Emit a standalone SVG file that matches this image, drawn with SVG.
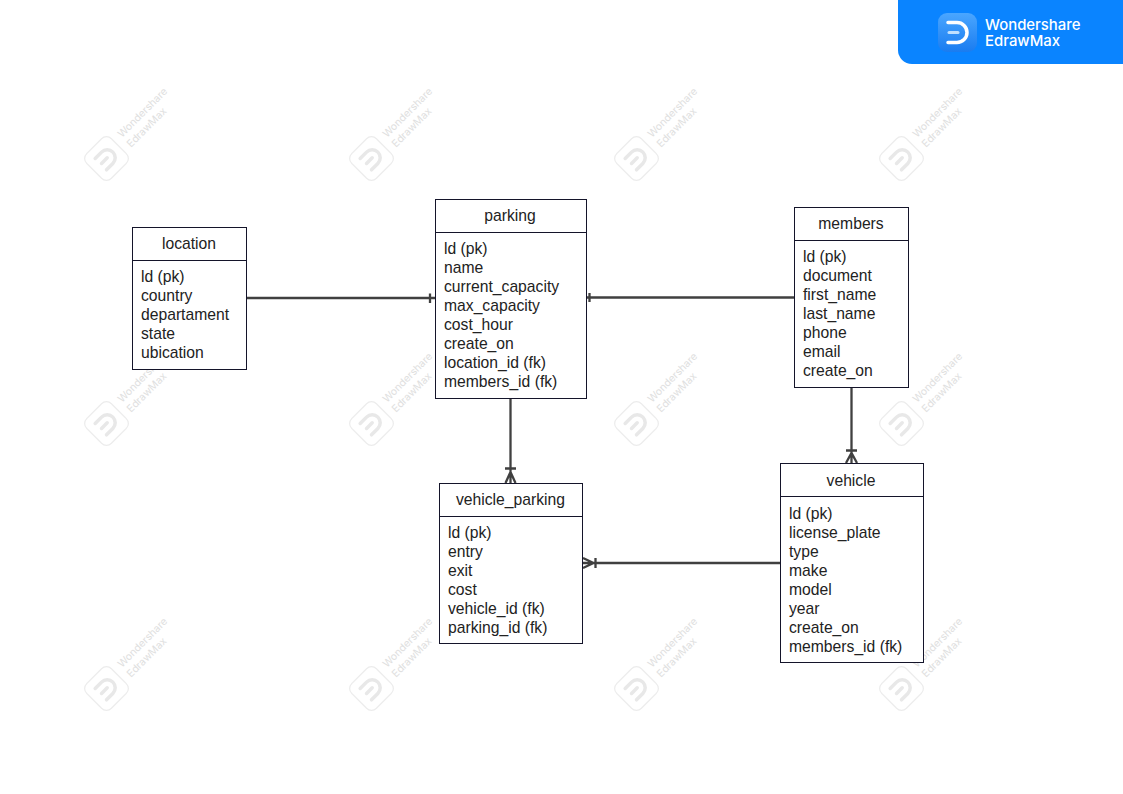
<svg xmlns="http://www.w3.org/2000/svg" width="1123" height="794" viewBox="0 0 1123 794">
<style>
.box{fill:#fff;stroke:#14142a;stroke-width:1}
.t{font-family:"Liberation Sans",Arial,sans-serif;font-size:15.700px;fill:#222}
.h{text-anchor:middle}
.c{fill:none;stroke:#404040;stroke-width:2.300}
.wm{font-family:"Inter","Liberation Sans",sans-serif;font-size:10.300px;fill:#e0e0e0}
.wl{fill:#fff;stroke:#ececec;stroke-width:1.2}
.wi{fill:none;stroke:#e8e8e8;stroke-width:3.500;stroke-linecap:round}
.bt{font-family:"Inter","Liberation Sans",sans-serif;font-size:14.900px;font-weight:500;fill:#fff}
</style>
<defs>
<linearGradient id="lg" x1="0" y1="0" x2="0" y2="1"><stop offset="0" stop-color="#4aa6ff"/><stop offset="1" stop-color="#1a7cf0"/></linearGradient>
<g id="wmark">
<rect x="-17.500" y="-17.500" width="35" height="35" rx="7" class="wl" transform="rotate(45)"/>
<path d="M-8-8H1A8 8 0 0 1 1 8H-8M-7 0H1" class="wi" transform="rotate(-45)"/>
</g>
</defs>
<rect width="1123" height="794" fill="#fff"/>
<g id="watermarks">
<g id="wm-1-1"><use href="#wmark" x="106.500" y="158.500"/><text class="wm" transform="translate(122 138) rotate(-45)">Wondershare</text><text class="wm" transform="translate(131 148) rotate(-45)">EdrawMax</text></g>
<g id="wm-1-2"><use href="#wmark" x="371.500" y="158.500"/><text class="wm" transform="translate(387 138) rotate(-45)">Wondershare</text><text class="wm" transform="translate(396 148) rotate(-45)">EdrawMax</text></g>
<g id="wm-1-3"><use href="#wmark" x="636.500" y="158.500"/><text class="wm" transform="translate(652 138) rotate(-45)">Wondershare</text><text class="wm" transform="translate(661 148) rotate(-45)">EdrawMax</text></g>
<g id="wm-1-4"><use href="#wmark" x="901.500" y="158.500"/><text class="wm" transform="translate(917 138) rotate(-45)">Wondershare</text><text class="wm" transform="translate(926 148) rotate(-45)">EdrawMax</text></g>
<g id="wm-2-1"><use href="#wmark" x="106.500" y="423.500"/><text class="wm" transform="translate(122 403) rotate(-45)">Wondershare</text><text class="wm" transform="translate(131 413) rotate(-45)">EdrawMax</text></g>
<g id="wm-2-2"><use href="#wmark" x="371.500" y="423.500"/><text class="wm" transform="translate(387 403) rotate(-45)">Wondershare</text><text class="wm" transform="translate(396 413) rotate(-45)">EdrawMax</text></g>
<g id="wm-2-3"><use href="#wmark" x="636.500" y="423.500"/><text class="wm" transform="translate(652 403) rotate(-45)">Wondershare</text><text class="wm" transform="translate(661 413) rotate(-45)">EdrawMax</text></g>
<g id="wm-2-4"><use href="#wmark" x="901.500" y="423.500"/><text class="wm" transform="translate(917 403) rotate(-45)">Wondershare</text><text class="wm" transform="translate(926 413) rotate(-45)">EdrawMax</text></g>
<g id="wm-3-1"><use href="#wmark" x="106.500" y="688.500"/><text class="wm" transform="translate(122 668) rotate(-45)">Wondershare</text><text class="wm" transform="translate(131 678) rotate(-45)">EdrawMax</text></g>
<g id="wm-3-2"><use href="#wmark" x="371.500" y="688.500"/><text class="wm" transform="translate(387 668) rotate(-45)">Wondershare</text><text class="wm" transform="translate(396 678) rotate(-45)">EdrawMax</text></g>
<g id="wm-3-3"><use href="#wmark" x="636.500" y="688.500"/><text class="wm" transform="translate(652 668) rotate(-45)">Wondershare</text><text class="wm" transform="translate(661 678) rotate(-45)">EdrawMax</text></g>
<g id="wm-3-4"><use href="#wmark" x="901.500" y="688.500"/><text class="wm" transform="translate(917 668) rotate(-45)">Wondershare</text><text class="wm" transform="translate(926 678) rotate(-45)">EdrawMax</text></g>
</g>
<g id="connectors">
<path class="c" d="M247 298H435M430 293.500V303"/>
<path class="c" d="M587 297.500H794M589.500 293V302"/>
<path class="c" d="M510.500 399V483M505 468.500H516M505.500 483L510.500 472L515.500 483M510.500 472V483"/>
<path class="c" d="M851.500 388V463M846 450.500H857M846 463L851.500 453L857 463M851.500 453V463"/>
<path class="c" d="M780 563H583M595.500 558V568M583 558L593.500 563L583 568"/>
</g>
<g id="location">
<rect class="box" x="132.500" y="227.500" width="114" height="142"/><path class="box" d="M132.500 260.500H246.500"/>
<text class="t h" x="189" y="249">location</text>
<text class="t" x="141" y="282">ld (pk)</text><text class="t" x="141" y="301">country</text><text class="t" x="141" y="320">departament</text><text class="t" x="141" y="339">state</text><text class="t" x="141" y="358">ubication</text>
</g>
<g id="parking">
<rect class="box" x="435.500" y="199.500" width="151" height="199"/><path class="box" d="M435.500 232.500H586.500"/>
<text class="t h" x="510" y="221">parking</text>
<text class="t" x="444" y="254">ld (pk)</text><text class="t" x="444" y="273">name</text><text class="t" x="444" y="292">current_capacity</text><text class="t" x="444" y="311">max_capacity</text><text class="t" x="444" y="330">cost_hour</text><text class="t" x="444" y="349">create_on</text><text class="t" x="444" y="368">location_id (fk)</text><text class="t" x="444" y="387">members_id (fk)</text>
</g>
<g id="members">
<rect class="box" x="794.500" y="207.500" width="114" height="180"/><path class="box" d="M794.500 240.500H908.500"/>
<text class="t h" x="851" y="229">members</text>
<text class="t" x="803" y="262">ld (pk)</text><text class="t" x="803" y="281">document</text><text class="t" x="803" y="300">first_name</text><text class="t" x="803" y="319">last_name</text><text class="t" x="803" y="338">phone</text><text class="t" x="803" y="357">email</text><text class="t" x="803" y="376">create_on</text>
</g>
<g id="vehicle_parking">
<rect class="box" x="439.500" y="483.500" width="143" height="160"/><path class="box" d="M439.500 516.500H582.500"/>
<text class="t h" x="510.500" y="505">vehicle_parking</text>
<text class="t" x="448" y="538">ld (pk)</text><text class="t" x="448" y="557">entry</text><text class="t" x="448" y="576">exit</text><text class="t" x="448" y="595">cost</text><text class="t" x="448" y="614">vehicle_id (fk)</text><text class="t" x="448" y="633">parking_id (fk)</text>
</g>
<g id="vehicle">
<rect class="box" x="780.500" y="463.500" width="143" height="199"/><path class="box" d="M780.500 496.500H923.500"/>
<text class="t h" x="851" y="486">vehicle</text>
<text class="t" x="789" y="519">ld (pk)</text><text class="t" x="789" y="538">license_plate</text><text class="t" x="789" y="557">type</text><text class="t" x="789" y="576">make</text><text class="t" x="789" y="595">model</text><text class="t" x="789" y="614">year</text><text class="t" x="789" y="633">create_on</text><text class="t" x="789" y="652">members_id (fk)</text>
</g>
<g id="badge">
<path d="M898 0H1123V64H912A14 14 0 0 1 898 50Z" fill="#0a84ff"/>
<rect x="938" y="13" width="39" height="39" rx="9" fill="url(#lg)"/>
<path d="M948 22.500H957A10 10 0 0 1 957 42.500H948" fill="none" stroke="#fff" stroke-width="3.500" stroke-linecap="round"/>
<path d="M949 32.500H958" fill="none" stroke="#bfe0ff" stroke-width="3" stroke-linecap="round"/>
<text class="bt" x="985" y="30">Wondershare</text>
<text class="bt" x="985" y="46">EdrawMax</text>
</g>
</svg>
